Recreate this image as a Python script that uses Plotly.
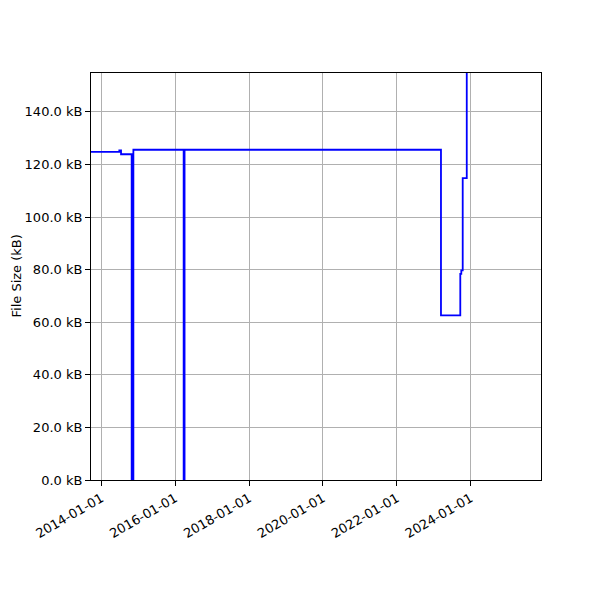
import plotly.graph_objects as go

dates = ["2013-09-21", "2014-06-28", "2014-07-15", "2014-10-28", "2014-11-14",
         "2016-03-25", "2016-04-03", "2023-03-13", "2023-09-20", "2023-09-30",
         "2023-10-14", "2023-11-23", "2025-05-07"]
sizes_kb = [124.8, 125.4, 123.9, 0.0, 125.6, 0.0, 125.6, 62.6, 78.4, 79.7,
            114.8, 260.0, 260.0]

x_ticks = ["2014-01-01", "2016-01-01", "2018-01-01", "2020-01-01",
           "2022-01-01", "2024-01-01"]
y_ticks = [0, 20, 40, 60, 80, 100, 120, 140]
y_tick_text = [f"{v:.1f} kB" for v in y_ticks]

fig = go.Figure()
fig.add_trace(go.Scatter(
    x=dates, y=sizes_kb, mode="lines", line_shape="hv",
    line=dict(color="#0000ff", width=1.8), showlegend=False,
))

font = dict(family="DejaVu Sans", size=13, color="black")
fig.update_layout(
    width=600, height=600,
    margin=dict(l=83, r=67, t=65, b=128, autoexpand=False),
    plot_bgcolor="white", paper_bgcolor="white",
    font=font,
)
fig.add_annotation(
    text="File Size (kB)", xref="paper", yref="paper", x=0, y=0.5,
    xanchor="center", yanchor="middle",
    xshift=-75, textangle=-90, showarrow=False,
    font=dict(family="DejaVu Sans", size=13, color="black"),
)
fig.update_xaxes(
    range=["2013-09-21", "2025-11-26"],
    tickvals=x_ticks, ticktext=x_ticks, tickangle=-30,
    showgrid=True, gridcolor="#b0b0b0", gridwidth=1,
    showline=True, linecolor="black", linewidth=1, mirror=True,
    ticks="outside", ticklen=5, tickcolor="black", zeroline=False,
)
fig.update_yaxes(
    range=[0, 154.8],
    tickvals=y_ticks, ticktext=y_tick_text,
    showgrid=True, gridcolor="#b0b0b0", gridwidth=1,
    showline=True, linecolor="black", linewidth=1, mirror=True,
    ticks="outside", ticklen=5, tickcolor="black", zeroline=False,
)

fig.write_html("out.html")
